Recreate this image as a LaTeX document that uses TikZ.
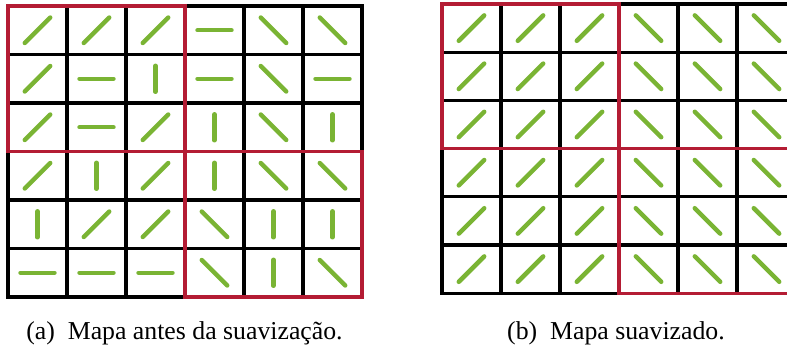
\documentclass[tikz,border=0pt]{standalone}
\usepackage{fontspec}
\setmainfont{Liberation Serif}
\definecolor{vetorverde}{RGB}{122,180,52}
\definecolor{blocovermelho}{RGB}{180,28,52}
\tikzset{
  vetor/.style={vetorverde, line width=3.8pt, line cap=round},
  grade/.style={black, line width=2.7pt, line cap=rect},
  bloco/.style={blocovermelho, line width=2.7pt, line join=miter},
  legenda/.style={anchor=base, font=\fontsize{22}{26}\selectfont},
}

\begin{document}
\begin{tikzpicture}[x=0.03cm, y=-0.03cm]
  \useasboundingbox (0,0) rectangle (787,351);
  % mapa antes (angulos: -45 = /, 45 = \, 0 = -, 90 = |)
  \foreach \linha [count=\r from 0] in {
      {-45,-45,-45,0,45,45},
      {-45,0,90,0,45,0},
      {-45,0,-45,90,45,90},
      {-45,90,-45,90,45,45},
      {90,-45,-45,45,90,90},
      {0,0,0,45,90,45}}{
    \foreach \ang [count=\c from 0] in \linha {
      \pgfmathsetmacro\meio{17-4*sin(\ang)^2+3*sin(2*\ang)^2}
      \draw[vetor] (8+59*\c+29.5, 6+48.5*\r+24.25) ++(\ang:\meio) -- ++(\ang+180:{2*\meio});
    }
  }
  \foreach \i in {0,...,6} {
    \draw[grade] (8+59*\i,6) -- (8+59*\i,297);
    \draw[grade] (8,6+48.5*\i) -- (362,6+48.5*\i);
  }
  \draw[bloco] (8,6) rectangle (185,151.5);
  \draw[bloco] (185,151.5) rectangle (362,297);
  % mapa suavizado
  \foreach \r in {0,...,5} {
    \foreach \c in {0,...,5} {
      \pgfmathsetmacro\ang{\c<3 ? -45 : 45}
      \draw[vetor] (442+59*\c+29.5, 4+48.2*\r+24.1) ++(\ang:18) -- ++(\ang+180:36);
    }
  }
  \foreach \i in {0,...,6} {
    \draw[grade] (442+59*\i,4) -- (442+59*\i,293.2);
    \draw[grade] (442,4+48.2*\i) -- (796,4+48.2*\i);
  }
  \draw[bloco] (442,4) rectangle (619,148.6);
  \draw[bloco] (619,148.6) rectangle (796,293.2);
  % legendas
  \node[legenda] (legA) at (184.5,339) {(a)\hspace{0.5em}Mapa antes da suavização.};
  \node[legenda] (legB) at (616,339) {(b)\hspace{0.5em}Mapa suavizado.};
\end{tikzpicture}
\end{document}
